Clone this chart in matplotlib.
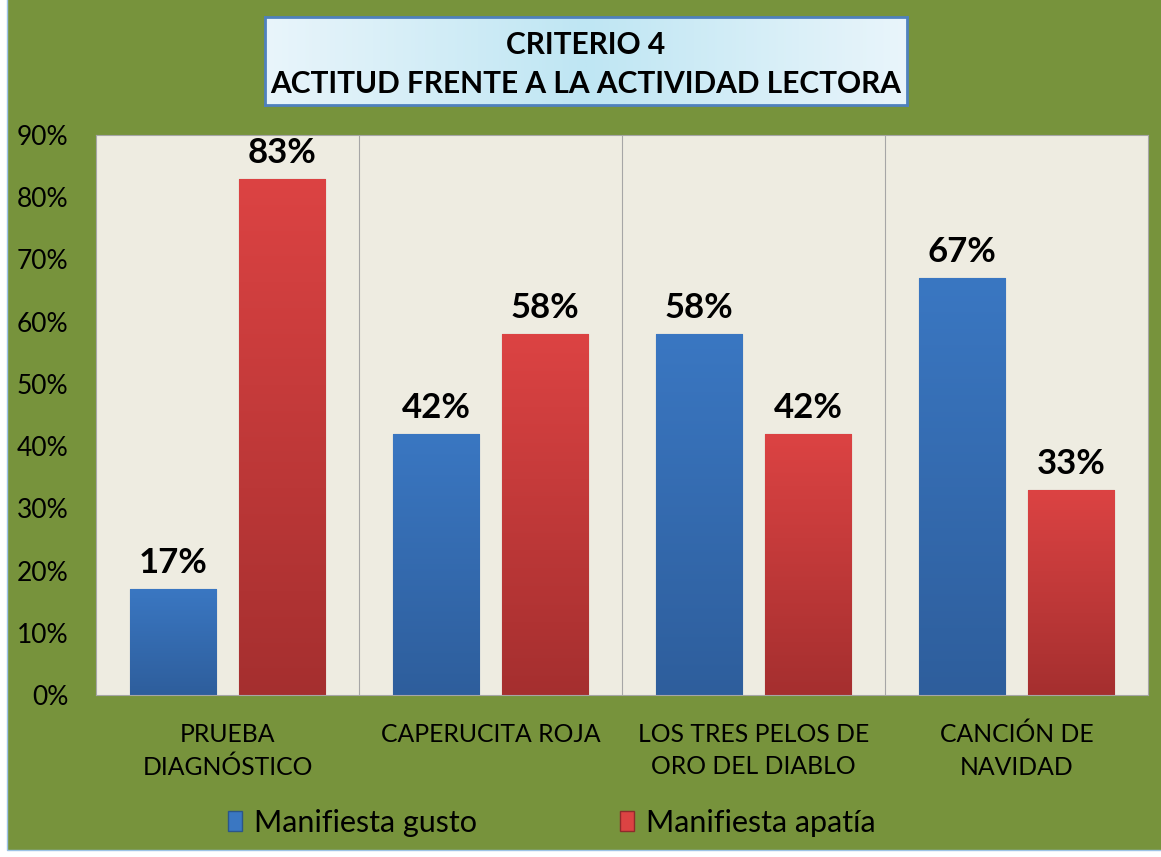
import matplotlib
matplotlib.use("Agg")
import matplotlib.pyplot as plt
import numpy as np
from matplotlib.patches import Rectangle
from matplotlib.colors import LinearSegmentedColormap

plt.rcParams['font.family'] = ['Lato', 'DejaVu Sans']

# data
categories = ["PRUEBA\nDIAGNÓSTICO", "CAPERUCITA ROJA",
              "LOS TRES PELOS DE\nORO DEL DIABLO", "CANCIÓN DE\nNAVIDAD"]
gusto = [17, 42, 58, 67]
apatia = [83, 58, 42, 33]
series_names = ["Manifiesta gusto", "Manifiesta apatía"]
yticks = [0, 10, 20, 30, 40, 50, 60, 70, 80, 90]

GREEN = "#77933C"
PLOT_BG = "#EEECE1"
blue_cmap = LinearSegmentedColormap.from_list("b", ["#2E5E9C", "#3A77C2"])
red_cmap = LinearSegmentedColormap.from_list("r", ["#A52F2F", "#DC4343"])

fig = plt.figure(figsize=(11.61, 8.57), dpi=100, facecolor="white")
fig.patches.append(Rectangle((7 / 1161, 7 / 857), 1, 1, transform=fig.transFigure,
                             facecolor=GREEN, edgecolor="#9DC3E6", lw=1, zorder=-5))

ax = fig.add_axes([96 / 1161, 162 / 857, 1052 / 1161, 560 / 857])
ax.set_facecolor(PLOT_BG)

x = np.arange(len(categories))
w = 0.327
off = 0.207
grad = np.linspace(0, 1, 256).reshape(-1, 1)


def gradient_bars(bars, cmap):
    for b in bars:
        bx, by = b.get_x(), b.get_y()
        bw, bh = b.get_width(), b.get_height()
        im = ax.imshow(grad, cmap=cmap, aspect="auto", origin="lower",
                       extent=[bx, bx + bw, by, by + bh], zorder=2)
        im.set_clip_path(b)


b1 = ax.bar(x - off, gusto, w, color="#3A77C2", edgecolor="#2B5689", lw=0.8, zorder=2)
b2 = ax.bar(x + off, apatia, w, color="#DC4343", edgecolor="#8E2B2B", lw=0.8, zorder=2)
gradient_bars(b1, blue_cmap)
gradient_bars(b2, red_cmap)

for bars, vals in ((b1, gusto), (b2, apatia)):
    for b, v in zip(bars, vals):
        ax.text(b.get_x() + b.get_width() / 2, v + 1.6, f"{v}%", ha="center",
                va="bottom", fontsize=25, fontweight="bold", color="black", zorder=4)

ax.set_xlim(-0.5, len(categories) - 0.5)
ax.set_ylim(0, 90)
ax.set_yticks(yticks)
ax.set_yticklabels([f"{t}%" for t in yticks], fontsize=19)
ax.set_xticks(x)
ax.set_xticklabels(categories, fontsize=17.8, linespacing=1.5)
ax.tick_params(axis="both", length=0, colors="black")
ax.tick_params(axis="y", pad=20)
ax.tick_params(axis="x", pad=20)
for xs in x[:-1] + 0.5:
    ax.axvline(xs, color="#A6A6A6", lw=0.8, zorder=1)
for s in ax.spines.values():
    s.set_color("#A6A6A6")
    s.set_linewidth(0.8)

# title box
tax = fig.add_axes([265 / 1161, (857 - 105) / 857, 642 / 1161, 88 / 857])
tg = np.linspace(0, 1, 256)
tg = 1 - np.abs(tg - 0.5) * 1.2
tax.imshow(tg.reshape(1, -1), cmap=LinearSegmentedColormap.from_list(
    "t", ["#E9F5FB", "#BFE6F3"]), aspect="auto", extent=[0, 1, 0, 1])
tax.set_xlim(0, 1)
tax.set_ylim(0, 1)
tax.set_xticks([])
tax.set_yticks([])
for s in tax.spines.values():
    s.set_color("#4F81BD")
    s.set_linewidth(2)
tax.text(0.5, 0.46, "CRITERIO 4\nACTITUD FRENTE A LA ACTIVIDAD LECTORA",
         ha="center", va="center", fontsize=21.5, fontweight="bold",
         linespacing=1.5, transform=tax.transAxes)

# legend
handles = [Rectangle((0, 0), 1, 1, facecolor="#3A77C2", edgecolor="#2B5689"),
           Rectangle((0, 0), 1, 1, facecolor="#DC4343", edgecolor="#8E2B2B")]
fig.legend(handles, series_names, loc="center", bbox_to_anchor=(552 / 1161, 34 / 857),
           ncol=2, frameon=False, fontsize=22, handlelength=0.45, handleheight=0.65,
           handletextpad=0.4, columnspacing=4.7)

fig.savefig("out.png", dpi=100, facecolor=fig.get_facecolor())
